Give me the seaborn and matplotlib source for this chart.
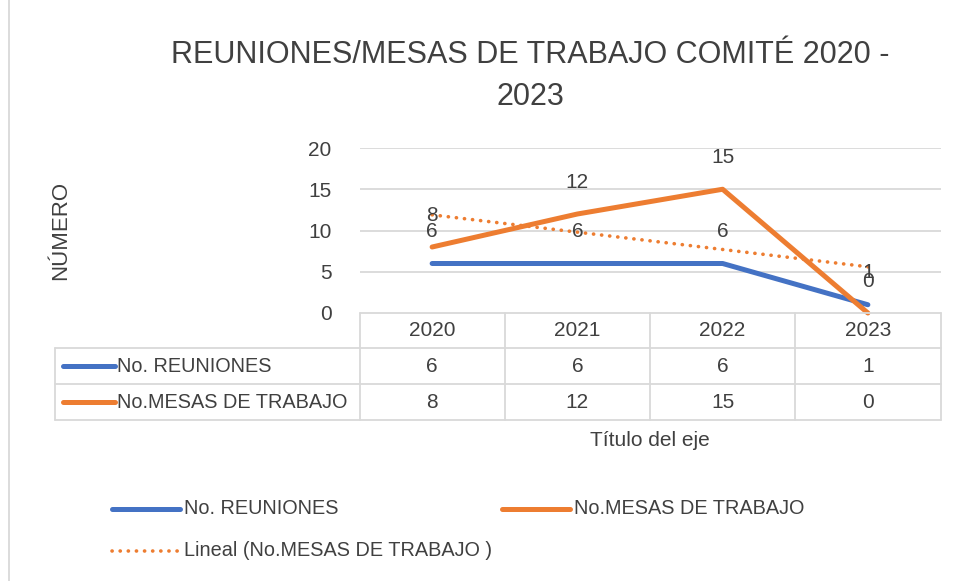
import numpy as np
import pandas as pd
import matplotlib
matplotlib.use("Agg")
import matplotlib.pyplot as plt
import seaborn as sns
from matplotlib.lines import Line2D

# Data
years = ["2020", "2021", "2022", "2023"]
reuniones = [6, 6, 6, 1]
mesas = [8, 12, 15, 0]
series_names = ["No. REUNIONES", "No.MESAS DE TRABAJO"]
trend_name = "Lineal (No.MESAS DE TRABAJO )"
y_ticks = [0, 5, 10, 15, 20]

BLUE = "#4472C4"
ORANGE = "#ED7D31"
GRID = "#D9D9D9"
TXT = "#404040"
DOTS = (0, (0.05, 2.2))

sns.set_style("white")
plt.rcParams["font.family"] = ["Liberation Sans Narrow", "Liberation Sans", "DejaVu Sans"]

W, H = 958, 581
fig = plt.figure(figsize=(W / 100, H / 100), dpi=100)


def fx(px):
    return px / W


def fy(py):
    return 1 - py / H


# plot area in pixels
left, right, top, bottom = 359.5, 940.5, 148, 313
ax = fig.add_axes([fx(left), fy(bottom), fx(right - left), (bottom - top) / H])

df = pd.DataFrame({"pos": range(len(years)), "year": years,
                   series_names[0]: reuniones, series_names[1]: mesas})
long = df.melt(id_vars=["pos", "year"], value_vars=series_names,
               var_name="serie", value_name="valor")

sns.lineplot(data=long, x="pos", y="valor", hue="serie",
             palette=[BLUE, ORANGE], linewidth=3.6, legend=False, ax=ax,
             solid_capstyle="round", zorder=3)
for ln in ax.get_lines():
    ln.set_clip_on(False)

# linear trendline for the orange series
x = np.arange(len(years)) + 1
coef = np.polyfit(x, mesas, 1)
ax.plot(x - 1, np.polyval(coef, x), color=ORANGE, linestyle=DOTS,
        linewidth=2.6, dash_capstyle="round", zorder=2)

# data labels
for vals in (reuniones, mesas):
    for i, v in enumerate(vals):
        ax.annotate(str(v), (i, v), xytext=(0, 23), textcoords="offset points",
                    ha="center", va="center", fontsize=15, color=TXT, zorder=4)

ax.set_xlim(-0.5, len(years) - 0.5)
ax.set_ylim(0, 20)
ax.set_yticks(y_ticks)
ax.set_yticklabels([str(t) for t in y_ticks], fontsize=15, color=TXT)
ax.set_xticks([])
ax.tick_params(axis="y", length=0, pad=20)
for s in ax.spines.values():
    s.set_visible(False)
for t in y_ticks[1:]:
    ax.axhline(t, color=GRID, linewidth=1.3, zorder=1)
ax.set_xlabel("")
ax.set_ylabel("")

# data table under the plot
row_tops = [313, 348, 384, 420]
col_edges = np.linspace(left, right, len(years) + 1)
table_left = 55
lc = GRID
lw = 1.3
fig.add_artist(Line2D([fx(left), fx(right)], [fy(313)] * 2, color=lc, lw=lw))
for yy in row_tops[1:]:
    fig.add_artist(Line2D([fx(table_left), fx(right)], [fy(yy)] * 2, color=lc, lw=lw))
for xx in col_edges:
    fig.add_artist(Line2D([fx(xx)] * 2, [fy(313), fy(420)], color=lc, lw=lw))
fig.add_artist(Line2D([fx(table_left)] * 2, [fy(348), fy(420)], color=lc, lw=lw))

centers = (col_edges[:-1] + col_edges[1:]) / 2
for c, yr in zip(centers, years):
    fig.text(fx(c), fy(330.5), yr, ha="center", va="center", fontsize=15, color=TXT)
for r, (name, vals, col) in enumerate(zip(series_names, [reuniones, mesas], [BLUE, ORANGE])):
    yc = (row_tops[r + 1] + row_tops[r + 2]) / 2
    fig.add_artist(Line2D([fx(63), fx(115)], [fy(yc)] * 2, color=col, lw=3.6,
                          solid_capstyle="round"))
    fig.text(fx(117), fy(yc), name, ha="left", va="center", fontsize=14.3, color=TXT)
    for c, v in zip(centers, vals):
        fig.text(fx(c), fy(yc), str(v), ha="center", va="center", fontsize=15, color=TXT)

# titles
fig.text(fx(530), fy(55), "REUNIONES/MESAS DE TRABAJO COMITÉ 2020 -", ha="center",
         va="center", fontsize=22, color=TXT)
fig.text(fx(530), fy(97), "2023", ha="center", va="center", fontsize=22, color=TXT)
fig.text(fx(61), fy(230), "NÚMERO", rotation=90, ha="center", va="center",
         fontsize=16, color=TXT)
fig.text(fx(650), fy(440), "Título del eje", ha="center", va="center",
         fontsize=15, color=TXT)

# legend at the bottom
legend_items = [
    (112, 509, BLUE, "-", series_names[0]),
    (502, 509, ORANGE, "-", series_names[1]),
    (112, 551, ORANGE, ":", trend_name),
]
for x0, yy, col, ls, label in legend_items:
    if ls == "-":
        fig.add_artist(Line2D([fx(x0), fx(x0 + 68)], [fy(yy)] * 2, color=col, lw=3.6,
                              solid_capstyle="round"))
    else:
        fig.add_artist(Line2D([fx(x0), fx(x0 + 68)], [fy(yy)] * 2, color=col, lw=2.6,
                              linestyle=DOTS, dash_capstyle="round"))
    fig.text(fx(x0 + 72), fy(yy), label, ha="left", va="center", fontsize=14.3, color=TXT)

# chart area border (left edge visible)
fig.add_artist(Line2D([fx(9)] * 2, [0, 1], color=GRID, lw=1.3))

fig.savefig("out.png", dpi=100)
